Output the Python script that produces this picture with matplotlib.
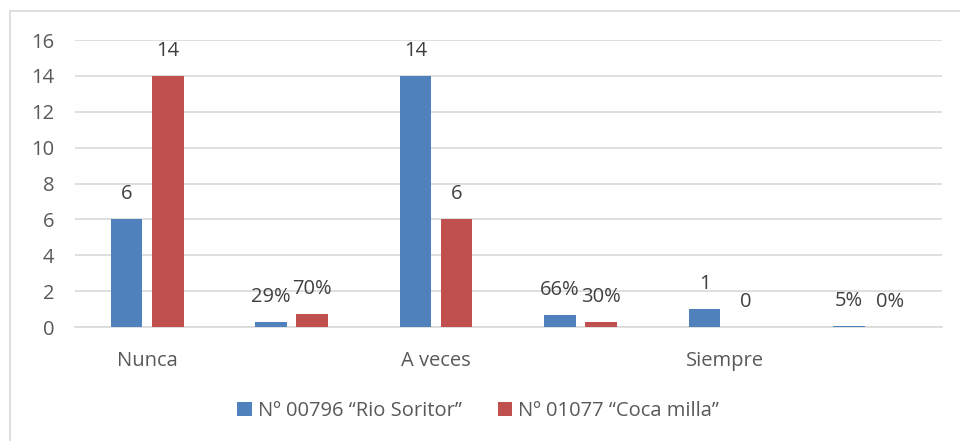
import numpy as np
import matplotlib
matplotlib.use("Agg")
import matplotlib.pyplot as plt
from matplotlib.patches import Rectangle

# categories (empty slots are the percentage groups)
CATEGORIES = ["Nunca", "", "A veces", "", "Siempre", ""]
SERIES_NAMES = ["Nº 00796 “Rio Soritor”", "Nº 01077 “Coca milla”"]
RIO_SORITOR = [6, 0.29, 14, 0.66, 1, 0.05]
COCA_MILLA = [14, 0.70, 6, 0.30, 0, 0]
RIO_LABELS = ["6", "29%", "14", "66%", "1", "5%"]
COCA_LABELS = ["14", "70%", "6", "30%", "0", "0%"]
Y_TICKS = [0, 2, 4, 6, 8, 10, 12, 14, 16]

BLUE = "#4F81BD"
RED = "#C0504D"
GRID = "#D9D9D9"
TEXT = "#595959"

plt.rcParams["font.family"] = ["Open Sans", "DejaVu Sans"]
plt.rcParams["font.size"] = 14.5

fig = plt.figure(figsize=(9.6, 4.41), dpi=100)
ax = fig.add_axes([0.078, 0.2585, 0.903, 0.6505])

# outer chart border (runs off the right and bottom edge)
fig.patches.append(Rectangle((10 / 960, -0.1), 1.2, 1 - 11 / 441 + 0.1,
                             transform=fig.transFigure, fill=False,
                             edgecolor=GRID, linewidth=1.2))

x = np.arange(len(CATEGORIES))
bar_width = 0.22
offset = 0.142

bars_b = ax.bar(x - offset, RIO_SORITOR, bar_width, color=BLUE, label=SERIES_NAMES[0], zorder=3)
bars_r = ax.bar(x + offset, COCA_MILLA, bar_width, color=RED, label=SERIES_NAMES[1], zorder=3)

# data labels above each bar
for bars, labels in [(bars_b, RIO_LABELS), (bars_r, COCA_LABELS)]:
    for b, lab in zip(bars, labels):
        ax.annotate(lab, (b.get_x() + b.get_width() / 2, b.get_height()),
                    xytext=(0, 18), textcoords="offset points",
                    ha="center", va="center", color="#404040", fontsize=14.5)

ax.set_xlim(-0.5, len(CATEGORIES) - 0.5)
ax.set_ylim(0, 16)
ax.set_yticks(Y_TICKS)
ax.set_xticks(x)
ax.set_xticklabels(CATEGORIES)
ax.tick_params(axis="both", length=0, colors=TEXT, labelsize=14.5)
ax.tick_params(axis="y", pad=15)
ax.tick_params(axis="x", pad=17)

ax.grid(axis="y", color=GRID, linewidth=1.2)
ax.set_axisbelow(True)
for side in ["left", "right", "top"]:
    ax.spines[side].set_visible(False)
ax.spines["bottom"].set_color(GRID)
ax.spines["bottom"].set_linewidth(1.2)

fig.legend(loc="center", bbox_to_anchor=(0.498, 0.067), ncol=2, frameon=False,
           handlelength=0.7, handleheight=0.7, handletextpad=0.3,
           columnspacing=1.8, fontsize=14.5, labelcolor=TEXT)

plt.savefig("out.png", dpi=100)
